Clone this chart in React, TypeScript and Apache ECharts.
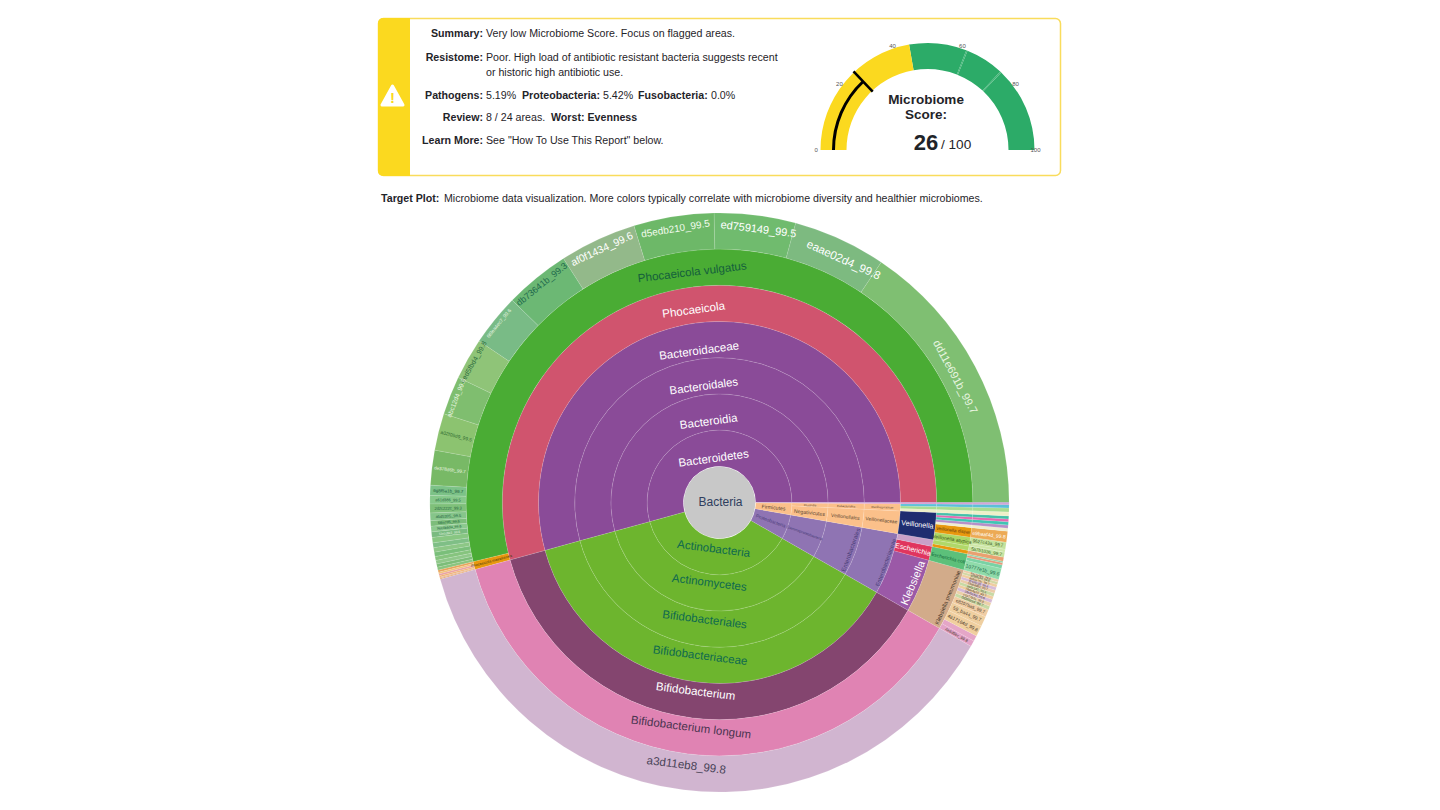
import React, { useEffect, useRef } from "react";
import * as echarts from "echarts";

const FONT = "Liberation Sans, Arial, sans-serif";

// ---- Report card text
const summaryRows = [
  { label: "Summary:", text: "Very low Microbiome Score. Focus on flagged areas." },
  { label: "Resistome:", text: "Poor. High load of antibiotic resistant bacteria suggests recent" },
  { label: "", text: "or historic high antibiotic use." },
  { label: "Pathogens:", text: "5.19%" },
  { label: "Review:", text: "8 / 24 areas." },
  { label: "Learn More:", text: 'See "How To Use This Report" below.' },
];
const score = 26;
const gaugeTicks = [0, 20, 40, 60, 80, 100];
const gaugeSteps = [0.445, 0.618, 0.622, 0.738, 0.742, 1];

// ---- Taxonomy: values are percent of reads
const vulgatusStrains = [
  "dd11e691b_99.7", "eaae02d4_99.8", "ed759149_99.5", "d5edb210_99.5", "af0f1434_99.6", "db73641b_99.3",
  "6f9ea4ec7_99.6", "eed5fbd4_99.8", "abc12d4_99.8", "a02f05d9_99.5", "de378d6b_99.7", "6g8f5a1b_99.7",
  "a61d386_99.5", "2d2c222c_99.3", "a5d5305_99.5", "f36a7d5_99.6", "9ec4b6da_99.6", "f2a1c8e3_99.6",
  "c4b1_99.5", "8a7e_99.4", "37fd_99.3", "b2c0_99.6", "e91a_99.5", "04dc_99.4", "7cf3_99.5", "19ab_99.3",
];
const vulgatusValues = [
  15.56, 5.19, 4.53, 4.47, 4.28, 3.64, 2.89, 2.31, 2.14, 2.06, 1.94, 0.56, 0.47, 0.5, 0.42, 0.31, 0.31, 0.31,
  0.3, 0.27, 0.25, 0.24, 0.22, 0.2, 0.18, 0.16,
];
const massiliensisValues = [0.12, 0.1, 0.1, 0.08, 0.06, 0.05];
const pneumoniaeStrains = [
  "4e6d5bc_99.8", "a7c1e0_99.6", "4617164d_99.8", "59_ba44_99.7", "e8207ba5_99.7", "0d3f0e5d_99.7",
  "c1a77b2e_99.8", "3fb20c6d_99.6", "78de4a10_99.7", "b90c13f7_99.5", "25ae6d81_99.7", "f04d9c32_99.6",
  "6ab1e70c_99.7", "d28f5c44_99.5", "91c7a0be_99.6",
];
const pneumoniaeValues = [0.33, 0.31, 0.61, 0.56, 0.42, 0.21, 0.2, 0.19, 0.18, 0.18, 0.17, 0.17, 0.16, 0.15, 0.14];
const coliStrains = ["10777e1b_99.6", "5cb2a7e9_99.9", "a1f3_99.7", "77d0_99.5"];
const coliValues = [0.62, 0.2, 0.13, 0.08];
const veillonellaSmallValues = [0.17, 0.17, 0.18, 0.15, 0.17];
const clostridiaValues = [0.22, 0.22, 0.19];
const otherValues = [0.06, 0.05];

// ---- Styles, kept apart from the values
const vulgatusFill = [
  "#7fbf72", "#7dba80", "#70bb6e", "#6db868", "#93b98a", "#6cb874", "#79bb86", "#8fc478", "#7fbe6f", "#8cc370",
  "#78b966", "#7cc287", "#86c88a", "#7fc07a", "#86c58a", "#7dbd7b", "#8cc98e", "#7abb80", "#88c682", "#7fbf86",
  "#8dc786", "#7abf7a", "#86c47e", "#90c88a", "#7cbd78", "#8ac47e",
];
const vulgatusInk = [
  "#e8f5e0", "#ffffff", "#ffffff", "#f2fbee", "#ffffff", "#1f6a4d", "#e8f5e0", "#2b6b3c", "#eaf6e0", "#2f6b30",
  "#eaf6e0", "#1a5a3a", "#1a5a3a", "#1a5a3a", "#1a5a3a", "#1a5a3a", "#1a5a3a", "#e8f5e0",
];
const vulgatusSize = [11, 11.5, 11, 10, 10.5, 9, 5, 7, 6.5, 4.8, 4.6, 4.5, 4, 4, 4, 3.6, 3.6, 3.2];
// label nudges as [shift down x2, right, shift up x2, left]
const vulgatusPad = [
  [8, 0, 0, 0], [0, 0, 2, 24], [0, 0, 10, 10], [0, 0, 12, 0], [0, 0, 16, 0], [0, 0, 20, 0],
  [0, 0, 26, 0], [0, 0, 24, 0], [0, 0, 24, 0],
];
const massiliensisFill = ["#e8a35a", "#f2c07a", "#e9a0a0", "#f0b070", "#e8b28c", "#e4a060"];
const pneumoniaeFill = [
  "#e3a3c8", "#e5a6c7", "#f0cf9f", "#efcfa0", "#f0cda4", "#c8d9a4", "#ebd0a8", "#d5b9d6", "#efcda0", "#c8d9a4",
  "#ebcba8", "#d7bcd7", "#efcda0", "#d3d7a4", "#eccda8",
];
const pneumoniaeSize = [4, 0, 4.8, 4.8, 4.5, 3.5, 3.2, 3.2, 3.2, 3, 3, 3, 3, 3, 3];
const coliFill = ["#8fdbaa", "#79d2a4", "#e49a7a", "#8fd3a8"];
const veillonellaSmallFill = ["#efeed0", "#b58fc8", "#3fc4b4", "#e468b0", "#44c0a8"];
const clostridiaFill = ["#eef0c8", "#a8dc90", "#5cc0d8"];
const otherFill = ["#d77ac0", "#a878c8"];

type Rot = "tangential" | "radial";
const LINE = "rgba(255,255,255,0.22)";

function labelOf(size: number, ink: string, rotate: Rot, pad?: number[]) {
  if (size <= 0) return { show: false };
  const p = pad || [0, 0, 0, 0];
  const base: any = { show: true, color: ink, fontSize: size, rotate, padding: [0, p[1], 0, p[3]] };
  if (p[0]) return { ...base, formatter: "\n{b}", lineHeight: p[0] };
  if (p[2]) return { ...base, formatter: "{b}\n", lineHeight: p[2] };
  return base;
}
function leaf(name: string, value: number, fill: string, ink: string, size: number, rotate: Rot = "radial", pad?: number[]) {
  return {
    name,
    value,
    itemStyle: { color: fill, borderColor: LINE, borderWidth: 0.5 },
    label: labelOf(size, ink, rotate, pad),
  };
}
function group(name: string, fill: string, ink: string, size: number, children: any[], rotate: Rot = "tangential", pad?: number[]) {
  return {
    name,
    children,
    itemStyle: { color: fill, borderColor: LINE, borderWidth: 0.5 },
    label: labelOf(size, ink, rotate, pad),
  };
}

const PEACH = "#fbc08a";
const LILAC = "#8f74b3";
const DARKINK = "#5a4632";
const UP = (n: number) => [n, 0, 0, 0];
const DOWN = (n: number) => [0, 0, n, 0];

const vulgatusLeaves = vulgatusStrains.map((n, i) =>
  leaf(n, vulgatusValues[i], vulgatusFill[i], vulgatusInk[i] || "#fff", vulgatusSize[i] || 0, i < 9 ? "tangential" : "radial", vulgatusPad[i]),
);
const massiliensisLeaves = massiliensisValues.map((v, i) => leaf("m" + i, v, massiliensisFill[i], "#333", 0));

const bacteroidetes = group("Bacteroidetes", "#8a4b98", "#fff", 11.6, [
  group("Bacteroidia", "#8a4b98", "#fff", 11.6, [
    group("Bacteroidales", "#8a4b98", "#fff", 11.4, [
      group("Bacteroidaceae", "#8a4b98", "#fff", 11.6, [
        group("Phocaeicola", "#d0546e", "#fff", 11.6, [
          group("Phocaeicola vulgatus", "#4aac34", "#15603c", 11.6, vulgatusLeaves, "tangential", UP(6)),
          group("Phocaeicola massiliensis", "#e8980e", "#4a3a10", 3.8, massiliensisLeaves, "radial"),
        ], "tangential", UP(8)),
      ], "tangential", UP(18)),
    ], "tangential", UP(18)),
  ], "tangential", UP(16)),
], "tangential", UP(18));

const actinoInk = "#0f6a4e";
const actinobacteria = group("Actinobacteria", "#6db52e", actinoInk, 11.6, [
  group("Actinomycetes", "#6db52e", actinoInk, 11.6, [
    group("Bifidobacteriales", "#6db52e", actinoInk, 11.6, [
      group("Bifidobacteriaceae", "#6db52e", actinoInk, 11.6, [
        group("Bifidobacterium", "#84456f", "#fff", 11.6, [
          group("Bifidobacterium longum", "#e083b3", "#4a3450", 11.6, [
            leaf("a3d11eb8_99.8", 37.44, "#d1b5d0", "#4a4458", 11.6, "tangential", DOWN(14)),
          ], "tangential", DOWN(18)),
        ], "tangential", DOWN(18)),
      ], "tangential", DOWN(18)),
    ], "tangential", DOWN(18)),
  ], "tangential", DOWN(20)),
], "tangential", DOWN(16));

const pneumoniaeLeaves = pneumoniaeStrains.map((n, i) =>
  leaf(n, pneumoniaeValues[i], pneumoniaeFill[i], "#4a3a2a", pneumoniaeSize[i]),
);
const coliLeaves = coliStrains.map((n, i) =>
  leaf(n, coliValues[i], coliFill[i], "#1f6a4a", i === 0 ? 5 : 0),
);

const proteobacteria = group("Proteobacteria", LILAC, "#4a3d78", 4.8, [
  group("Gammaproteobacteria", LILAC, "#4a3d78", 3.8, [
    group("Enterobacterales", LILAC, "#4a3d78", 6, [
      group("Enterobacteriaceae", LILAC, "#4a3d78", 5.8, [
        group("Klebsiella", "#9b59a7", "#fff", 11, [
          group("Klebsiella pneumoniae", "#d2ab8a", "#4a3a2a", 5.8, pneumoniaeLeaves, "tangential", UP(24)),
        ], "tangential", UP(20)),
        group("Escherichia", "#e0355e", "#fff", 7, [
          group("Escherichia coli", "#5cc07a", "#166a3a", 5, coliLeaves, "radial"),
        ], "radial"),
        group("Citrobacter", "#c9a0c8", "#555", 0, [
          group("Citrobacter freundii", "#e8980e", "#333", 0, [leaf("2f1c_99.6", 0.22, "#e9a070", "#333", 0)]),
          group("Citrobacter braakii", "#b0d868", "#333", 0, [leaf("5a7b1036_99.7", 0.28, "#c8e4a0", "#3a5a20", 4.5)]),
        ]),
      ], "tangential", UP(28)),
    ], "tangential", UP(26)),
  ], "radial"),
], "radial");

const veillonellaSmallLeaves = veillonellaSmallValues.map((v, i) =>
  group("V. sp. " + (i + 1), veillonellaSmallFill[i], "#333", 0, [
    leaf("v" + i, v, veillonellaSmallFill[i], "#333", 0),
  ]),
);

const firmicutes = group("Firmicutes", PEACH, DARKINK, 5.2, [
  group("Negativicutes", PEACH, DARKINK, 5.2, [
    group("Veillonellales", PEACH, DARKINK, 5, [
      group("Veillonellaceae", PEACH, DARKINK, 4.8, [
        group("Veillonella", "#1f2d70", "#fff", 7.2, [
          group("Veillonella atypica", "#aed665", "#3a5a20", 5, [
            leaf("5d9f_99.8", 0.17, "#cfe7a8", "#3a5a20", 0),
            leaf("9627c43a_99.7", 0.39, "#c4e29c", "#3a5a20", 4.5),
          ], "radial"),
          group("Veillonella dispar", "#e8980e", "#5a3a10", 4.6, [
            leaf("e9baaf4d_99.8", 0.61, "#ecaa55", "#fff", 5),
          ], "radial"),
          ...veillonellaSmallLeaves,
        ], "radial"),
      ], "radial"),
    ], "radial"),
  ], "radial"),
  group("Clostridia", PEACH, DARKINK, 3, [
    group("Eubacteriales", PEACH, DARKINK, 3, [
      group("Oscillospiraceae", PEACH, DARKINK, 3, clostridiaValues.map((v, i) =>
        group("g" + i, clostridiaFill[i], "#333", 0, [
          group("s" + i, clostridiaFill[i], "#333", 0, [leaf("c" + i, v, clostridiaFill[i], "#333", 0)]),
        ]),
      ), "radial"),
    ], "radial"),
  ], "radial"),
], "radial");

const chain = (name: string, depth: number, fill: string, value: number): any =>
  depth === 0
    ? leaf(name, value, fill, "#333", 0)
    : group(name, fill, "#333", 0, [chain(name, depth - 1, fill, value)]);

const others = otherValues.map((v, i) => chain("o" + i, 6, otherFill[i], v));

const treeRoot = [
  {
    name: "Bacteria",
    itemStyle: { color: "#c8c8c8", borderColor: "#fff", borderWidth: 1 },
    label: { show: false },
    children: [bacteroidetes, actinobacteria, proteobacteria, firmicutes, ...others],
  },
];

// warning icon outline
const warnPoints = [[392.5, 86], [403, 105], [382, 105]];

const ink = "#1f2429";
const textEl = (text: string, x: number, y: number, bold: boolean, align = "left", size = 10.65, fill = ink) => ({
  type: "text",
  x,
  y,
  z: 10,
  style: { text, fontFamily: FONT, fontSize: size, fontWeight: bold ? "bold" : "normal", fill, align, verticalAlign: "middle" },
});

export default function App() {
  const ref = useRef<HTMLDivElement>(null);
  useEffect(() => {
    const chart = echarts.init(ref.current!, undefined, { renderer: "svg" });
    const ys = [33, 57, 72, 95, 117, 140];
    const graphics: any[] = [
      { type: "rect", shape: { x: 378.5, y: 18.5, width: 682, height: 157, r: 5 }, style: { fill: "#fff", stroke: "#f9dc5c", lineWidth: 1.5 } },
      { type: "rect", shape: { x: 378, y: 18, width: 32, height: 158, r: [5, 0, 0, 5] }, style: { fill: "#fbd91f" } },
      { type: "polygon", shape: { points: warnPoints }, style: { fill: "#fff", stroke: "#fff", lineWidth: 3, lineJoin: "round" } },
      textEl("!", 392.5, 97.5, true, "center", 15, "#fbd91f"),
    ];
    summaryRows.forEach((row, i) => {
      if (row.label) graphics.push(textEl(row.label, 483, ys[i], true, "right"));
      graphics.push(textEl(row.text, 486, ys[i], false));
    });
    graphics.push(
      textEl("Proteobacteria:", 522, ys[3], true),
      textEl("5.42%", 603, ys[3], false),
      textEl("Fusobacteria:", 638, ys[3], true),
      textEl("0.0%", 711, ys[3], false),
      textEl("Worst: Evenness", 551, ys[4], true),
      textEl("Microbiome", 926, 99, true, "center", 13.5),
      textEl("Score:", 926, 114, true, "center", 13.5),
      textEl(String(score), 926, 142, true, "center", 22),
      textEl("/ 100", 941, 144, false, "left", 13.6),
      textEl("Target Plot:", 381, 198, true),
      textEl("Microbiome data visualization. More colors typically correlate with microbiome diversity and healthier microbiomes.", 444, 198, false),
      textEl("Bacteria", 720.5, 502, false, "center", 12, "#2f3e5e"),
    );
    const stepColors = ["#fbd91f", "#2cab68", "#45b678", "#2cab68", "#45b678", "#2cab68"];
    chart.setOption({
      animation: false,
      backgroundColor: "#fff",
      graphic: { elements: graphics },
      series: [
        {
          type: "sunburst",
          center: [719.5, 502.5],
          radius: [0, 289.6],
          startAngle: 0,
          clockwise: false,
          sort: null,
          nodeClick: false,
          emphasis: { disabled: true },
          label: { fontFamily: FONT, minAngle: 0 },
          data: treeRoot,
        },
        {
          type: "gauge",
          center: [927.5, 150],
          radius: 107,
          startAngle: 180,
          endAngle: 0,
          min: 0,
          max: 100,
          splitNumber: gaugeTicks.length - 1,
          axisLine: { lineStyle: { width: 26, color: gaugeSteps.map((s, i) => [s, stepColors[i]]) } },
          axisTick: { show: false },
          splitLine: { show: false },
          axisLabel: {
            distance: -26,
            fontSize: 6,
            color: "#555",
            fontFamily: FONT,
            formatter: (v: number) => (v === 100 ? "{r|100}" : String(v)),
            rich: { r: { fontSize: 6, color: "#555", fontFamily: FONT, padding: [0, 0, 0, 12] } },
          },
          pointer: { icon: "rect", length: 28, width: 2.6, offsetCenter: [0, -80], itemStyle: { color: "#000" } },
          anchor: { show: false },
          title: { show: false },
          detail: { show: false },
          data: [{ value: score }],
        },
        {
          type: "gauge",
          center: [927.5, 150],
          radius: 95.5,
          startAngle: 180,
          endAngle: 0,
          min: 0,
          max: 100,
          axisLine: { show: false },
          axisTick: { show: false },
          splitLine: { show: false },
          axisLabel: { show: false },
          pointer: { show: false },
          anchor: { show: false },
          title: { show: false },
          detail: { show: false },
          progress: { show: true, width: 3, itemStyle: { color: "#000" } },
          data: [{ value: score }],
        },
      ],
    });
    return () => chart.dispose();
  }, []);
  return <div ref={ref} style={{ position: "fixed", left: 0, top: 0, width: 1440, height: 810 }} />;
}
